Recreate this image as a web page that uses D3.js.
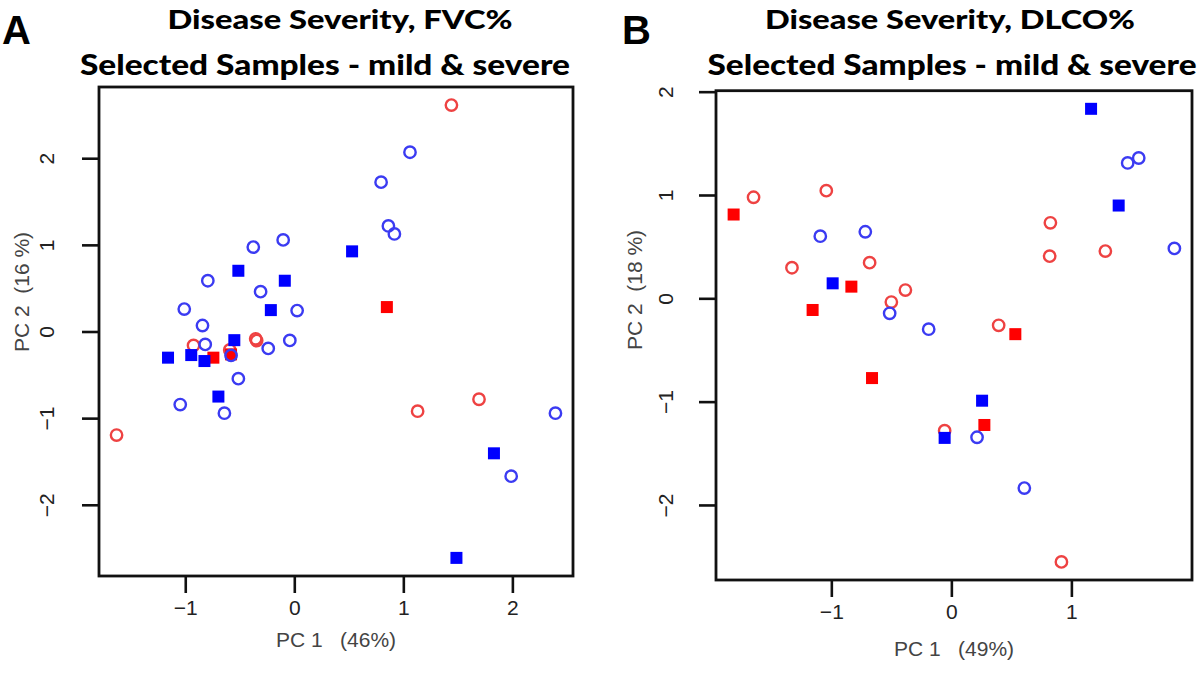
<!DOCTYPE html>
<html>
<head>
<meta charset="utf-8">
<script src="https://cdn.jsdelivr.net/npm/d3@7/dist/d3.min.js"></script>
<style>
  html, body { margin: 0; padding: 0; background: #fff; }
  svg { display: block; }
</style>
</head>
<body>
<svg id="chart" width="1200" height="674"></svg>
<script>
// ---------- DATA ----------
// Panel A: Disease Severity, FVC%
const fvcBlueOpen = [
  [-0.376, 0.974], [-0.102, 1.057], [-0.793, 0.586], [-0.309, 0.460],
  [-1.009, 0.259], [0.026, 0.241], [1.061, 2.069], [0.796, 1.724],
  [0.863, 1.218], [0.918, 1.126], [-0.842, 0.069], [-0.817, -0.149],
  [-0.239, -0.195], [-0.041, -0.103], [-0.580, -0.276], [-0.513, -0.544],
  [-1.046, -0.843], [-0.641, -0.943], [2.395, -0.943], [1.989, -1.670]
];
const fvcBlueFilled = [
  [-0.513, 0.701], [-0.087, 0.586], [-0.215, 0.247], [0.530, 0.925],
  [-0.550, -0.100], [-1.158, -0.302], [-0.945, -0.272], [-0.824, -0.341],
  [-0.696, -0.751], [1.831, -1.406], [1.487, -2.613]
];
const fvcRedOpen = [
  [1.441, 2.613], [-0.924, -0.161], [-0.354, -0.084], [-0.345, -0.105],
  [-0.592, -0.213], [-1.630, -1.195], [1.131, -0.920], [1.694, -0.782]
];
const fvcRedFilled = [
  [0.849, 0.282], [-0.742, -0.302], [-0.580, -0.264]
];

// Panel B: Disease Severity, DLCO%
const dlcoBlueOpen = [
  [-1.092, 0.601], [-0.717, 0.644], [-0.514, -0.145], [-0.189, -0.299],
  [0.214, -1.345], [0.608, -1.837], [1.469, 1.310], [1.561, 1.358],
  [1.858, 0.483]
];
const dlcoBlueFilled = [
  [-0.989, 0.145], [-0.056, -1.351], [0.256, -0.991], [1.164, 1.834],
  [1.394, 0.898]
];
const dlcoRedOpen = [
  [-1.648, 0.978], [-1.042, 1.042], [-1.328, 0.296], [-0.681, 0.345],
  [-0.383, 0.080], [-0.500, -0.036], [0.825, 0.731], [0.819, 0.408],
  [1.283, 0.457], [0.394, -0.261], [-0.056, -1.281], [0.917, -2.551]
];
const dlcoRedFilled = [
  [-1.814, 0.811], [-0.833, 0.113], [-1.156, -0.113], [-0.661, -0.772],
  [0.533, -0.347], [0.275, -1.226]
];

// Tick values and labels
const fvcXTicks = [-1, 0, 1, 2];
const fvcYTicks = [-2, -1, 0, 1, 2];
const dlcoXTicks = [-1, 0, 1];
const dlcoYTicks = [-2, -1, 0, 1, 2];

const titlesA = ["Disease  Severity, FVC%", "Selected Samples - mild & severe"];
const titlesB = ["Disease  Severity, DLCO%", "Selected Samples - mild & severe"];
const xLabelA = "PC 1   (46%)";
const yLabelA = "PC 2  (16 %)";
const xLabelB = "PC 1   (49%)";
const yLabelB = "PC 2  (18 %)";

// ---------- DRAWING ----------
const svg = d3.select("#chart");
const COL = {
  blueOpen: "#3b3bf2", blueFilled: "#0000ff",
  redOpen: "#ee4242", redFilled: "#ff0000"
};

function rPad(ext) { // R's default 4% axis extension
  const d = (ext[1] - ext[0]) * 0.04;
  return [ext[0] - d, ext[1] + d];
}

function fmt(v) { return v < 0 ? "\u2212" + Math.abs(v) : String(v); }

function panel(cfg) {
  const all = [].concat(cfg.blueOpen, cfg.blueFilled, cfg.redOpen, cfg.redFilled);
  const x = d3.scaleLinear().domain(rPad(d3.extent(all, d => d[0]))).range([cfg.left, cfg.right]);
  const y = d3.scaleLinear().domain(rPad(d3.extent(all, d => d[1]))).range([cfg.bottom, cfg.top]);
  const g = svg.append("g");

  // Titles
  cfg.titles.forEach((t, i) => {
    g.append("text")
      .attr("x", cfg.titleX[i]).attr("y", cfg.titleY[i])
      .attr("text-anchor", "middle")
      .attr("font-family", "Lato, 'Open Sans', sans-serif")
      .attr("font-weight", 900)
      .attr("font-size", cfg.titleSize[i])
      .attr("textLength", cfg.titleW[i])
      .attr("lengthAdjust", "spacingAndGlyphs")
      .attr("fill", "#000")
      .text(t);
  });

  // Panel letter
  g.append("text")
    .attr("x", cfg.letterX).attr("y", cfg.letterY)
    .attr("font-family", "'Liberation Sans', Arial, sans-serif")
    .attr("font-weight", "bold").attr("font-size", 40)
    .attr("fill", "#000")
    .text(cfg.letter);

  // Axes (R-style: ticks outside, labels away from box)
  const xAxis = d3.axisBottom(x).tickValues(cfg.xTicks).tickSize(17).tickPadding(7).tickFormat(fmt);
  const gx = g.append("g").attr("transform", `translate(0,${cfg.bottom})`).call(xAxis);
  gx.select(".domain").remove();
  gx.selectAll(".tick line").attr("stroke", "#111").attr("stroke-width", 2.6);
  gx.selectAll(".tick text")
    .attr("font-family", "'Liberation Sans', Arial, sans-serif")
    .attr("font-size", 21).attr("fill", "#222");

  const yAxis = d3.axisLeft(y).tickValues(cfg.yTicks).tickSize(17).tickPadding(0).tickFormat(fmt);
  const gy = g.append("g").attr("transform", `translate(${cfg.left},0)`).call(yAxis);
  gy.select(".domain").remove();
  gy.selectAll(".tick line").attr("stroke", "#111").attr("stroke-width", 2.6);
  gy.selectAll(".tick text")
    .attr("font-family", "'Liberation Sans', Arial, sans-serif")
    .attr("font-size", 21).attr("fill", "#222")
    .attr("x", null).attr("dy", null)
    .attr("text-anchor", "middle")
    .attr("transform", `translate(${cfg.yTickLabelX - cfg.left},0) rotate(-90)`);

  // Axis titles
  g.append("text")
    .attr("x", (cfg.left + cfg.right) / 2 + cfg.xLabelDX).attr("y", cfg.xLabelY)
    .attr("text-anchor", "middle")
    .attr("font-family", "'Liberation Sans', Arial, sans-serif")
    .attr("font-size", 21).attr("fill", "#444")
    .style("white-space", "pre")
    .text(cfg.xLabel);
  g.append("text")
    .attr("transform", `translate(${cfg.yLabelX},${cfg.yLabelY}) rotate(-90)`)
    .attr("text-anchor", "middle")
    .attr("font-family", "'Liberation Sans', Arial, sans-serif")
    .attr("font-size", 21).attr("fill", "#444")
    .style("white-space", "pre")
    .text(cfg.yLabel);

  // Points
  const pts = g.append("g");
  pts.selectAll(".ro").data(cfg.redOpen).join("circle")
    .attr("cx", d => x(d[0])).attr("cy", d => y(d[1])).attr("r", 5.7)
    .attr("fill", "none").attr("stroke", COL.redOpen).attr("stroke-width", 2.4);
  pts.selectAll(".rf").data(cfg.redFilled).join("rect")
    .attr("x", d => x(d[0]) - 6).attr("y", d => y(d[1]) - 6)
    .attr("width", 12).attr("height", 12).attr("fill", COL.redFilled);
  pts.selectAll(".bf").data(cfg.blueFilled).join("rect")
    .attr("x", d => x(d[0]) - 6).attr("y", d => y(d[1]) - 6)
    .attr("width", 12).attr("height", 12).attr("fill", COL.blueFilled);
  pts.selectAll(".bo").data(cfg.blueOpen).join("circle")
    .attr("cx", d => x(d[0])).attr("cy", d => y(d[1])).attr("r", 5.7)
    .attr("fill", "none").attr("stroke", COL.blueOpen).attr("stroke-width", 2.4);

  // Box
  g.append("rect")
    .attr("x", cfg.left).attr("y", cfg.top)
    .attr("width", cfg.right - cfg.left).attr("height", cfg.bottom - cfg.top)
    .attr("fill", "none").attr("stroke", "#111").attr("stroke-width", 2.8);
}

panel({
  letter: "A", letterX: 2, letterY: 44,
  titles: titlesA, titleX: [340, 325], titleY: [29, 75], titleW: [345, 490], titleSize: [26, 28],
  left: 99, right: 573, top: 87, bottom: 576,
  xTicks: fvcXTicks, yTicks: fvcYTicks,
  yTickLabelX: 54,
  xLabel: xLabelA, xLabelDX: 0, xLabelY: 647,
  yLabel: yLabelA, yLabelX: 29, yLabelY: 292,
  blueOpen: fvcBlueOpen, blueFilled: fvcBlueFilled,
  redOpen: fvcRedOpen, redFilled: fvcRedFilled
});

panel({
  letter: "B", letterX: 622, letterY: 44,
  titles: titlesB, titleX: [950, 952], titleY: [29, 75], titleW: [370, 489], titleSize: [26, 28],
  left: 716, right: 1192, top: 90.7, bottom: 580,
  xTicks: dlcoXTicks, yTicks: dlcoYTicks,
  yTickLabelX: 673,
  xLabel: xLabelB, xLabelDX: 0, xLabelY: 656,
  yLabel: yLabelB, yLabelX: 642, yLabelY: 290,
  blueOpen: dlcoBlueOpen, blueFilled: dlcoBlueFilled,
  redOpen: dlcoRedOpen, redFilled: dlcoRedFilled
});
</script>
</body>
</html>
